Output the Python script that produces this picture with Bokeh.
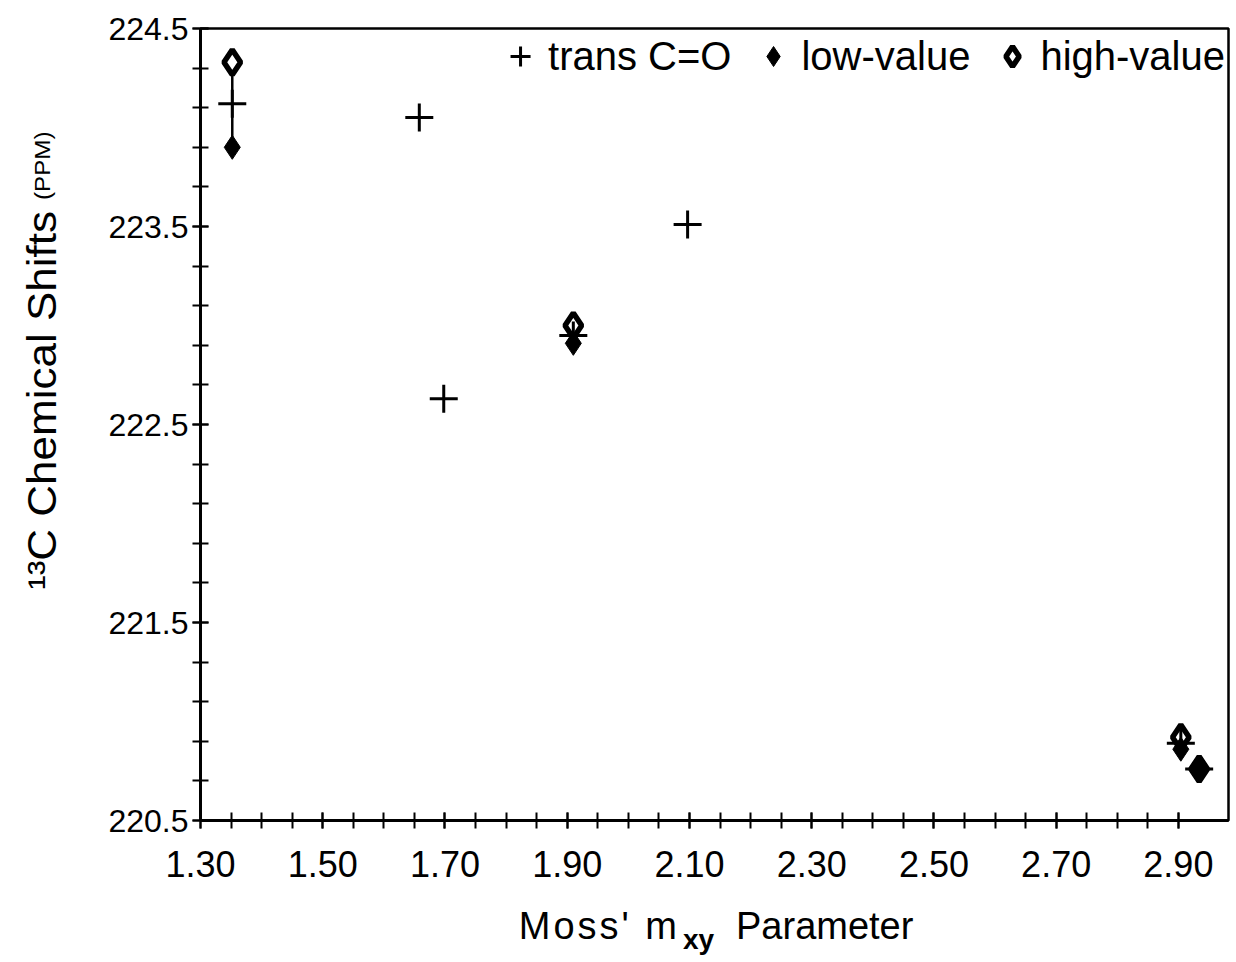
import numpy as np
from bokeh.plotting import figure
from bokeh.layouts import column, row
from bokeh.models import Range1d, FixedTicker, PrintfTickFormatter, Div
from bokeh.embed import file_html
from bokeh.resources import INLINE

# Moss' m_xy parameter and 13C chemical shifts (ppm)
trans_x = [1.352, 1.658, 1.698, 2.097, 1.910, 2.904, 2.934]
trans_y = [224.12, 224.05, 222.63, 223.51, 222.95, 220.89, 220.76]

pair_x = [1.352, 1.910, 2.904, 2.934]
low_y = [223.90, 222.91, 220.86, 220.76]
high_y = [224.33, 223.00, 220.92, 220.76]

x_tick_labels = [1.30, 1.50, 1.70, 1.90, 2.10, 2.30, 2.50, 2.70, 2.90]
y_tick_labels = [220.5, 221.5, 222.5, 223.5, 224.5]

FONT = "Liberation Sans"
YTITLE_W = 80

p = figure(width=1236 - YTITLE_W, height=900, output_backend="svg", toolbar_location=None,
           x_range=Range1d(1.30, 2.982), y_range=Range1d(220.5, 224.5),
           min_border_left=200 - YTITLE_W, min_border_right=8, min_border_top=28,
           min_border_bottom=80)
p.grid.visible = False
p.background_fill_color = "white"
p.border_fill_color = "white"
p.outline_line_color = "black"
p.outline_line_width = 2.5

x_minor = list(np.round(np.arange(1.30, 2.9001, 0.05), 2))
y_minor = list(np.round(np.arange(220.5, 224.5001, 0.2), 1))
p.xaxis.ticker = FixedTicker(ticks=x_tick_labels, minor_ticks=x_minor)
p.yaxis.ticker = FixedTicker(ticks=y_tick_labels, minor_ticks=y_minor)
p.xaxis.formatter = PrintfTickFormatter(format="%.2f")
p.yaxis.formatter = PrintfTickFormatter(format="%.1f")

for ax in (p.xaxis, p.yaxis):
    ax.axis_line_width = 3
    ax.axis_line_color = "black"
    ax.major_tick_in = 8
    ax.major_tick_out = 8
    ax.minor_tick_in = 8
    ax.minor_tick_out = 8
    ax.major_tick_line_width = 2
    ax.minor_tick_line_width = 2
    ax.major_tick_line_color = "black"
    ax.minor_tick_line_color = "black"
    ax.major_label_text_font = FONT
    ax.major_label_text_color = "black"
p.xaxis.major_label_text_font_size = "36px"
p.yaxis.major_label_text_font_size = "32px"
p.xaxis.major_label_standoff = 22
p.yaxis.major_label_standoff = 4

# range bars joining low and high values
p.segment(x0=pair_x, y0=low_y, x1=pair_x, y1=high_y, line_color="black", line_width=2.5)

p.scatter(pair_x, high_y, marker="diamond", size=25, fill_color="white",
          line_color="black", line_width=5.5, legend_label="high-value")
p.scatter(pair_x, low_y, marker="diamond", size=24, fill_color="black",
          line_color="black", line_width=1, legend_label="low-value")
p.scatter(trans_x, trans_y, marker="cross", size=28, line_color="black",
          line_width=3, legend_label="trans C=O")

lg = p.legend[0]
lg.items = [lg.items[2], lg.items[1], lg.items[0]]
lg.orientation = "horizontal"
lg.location = "top_right"
lg.border_line_color = None
lg.background_fill_alpha = 0
lg.label_text_font = FONT
lg.label_text_font_size = "40px"
lg.label_text_color = "black"
lg.glyph_width = 50
lg.glyph_height = 50
lg.spacing = 17
lg.label_standoff = 3
lg.padding = 0
lg.margin = 3

# rotated y axis title with a smaller unit
ytitle_html = (
    "<div style=\"position:relative;width:80px;height:900px;"
    "font-family:'Liberation Sans';color:black;\">"
    "<div style=\"position:absolute;left:22px;top:590px;white-space:nowrap;"
    "line-height:40px;transform-origin:0 0;transform:rotate(-90deg) scale(1.1,1);\">"
    "<span style=\"font-size:40px;\">\u00b9\u00b3C Chemical Shifts</span>"
    "<span style=\"font-size:22px;padding-left:10px;vertical-align:6px;\">(PPM)</span>"
    "</div></div>"
)
ytitle = Div(text=ytitle_html, width=YTITLE_W, height=900, margin=0)

# x axis title with subscript
xtitle_html = (
    "<div style=\"position:relative;width:1236px;height:62px;"
    "font-family:'Liberation Sans';color:black;\">"
    "<span style=\"position:absolute;right:556px;top:7px;font-size:38px;"
    "line-height:38px;white-space:nowrap;letter-spacing:3px;\">Moss' m</span>"
    "<span style=\"position:absolute;left:683px;top:26px;font-size:28px;"
    "line-height:28px;font-weight:bold;\">xy</span>"
    "<span style=\"position:absolute;left:736px;top:7px;font-size:38px;"
    "line-height:38px;\">Parameter</span>"
    "</div>"
)
xtitle = Div(text=xtitle_html, width=1236, height=62, margin=0)

layout = column(row(ytitle, p, spacing=0), xtitle, spacing=0)
open("out.html", "w").write(file_html(layout, INLINE))
